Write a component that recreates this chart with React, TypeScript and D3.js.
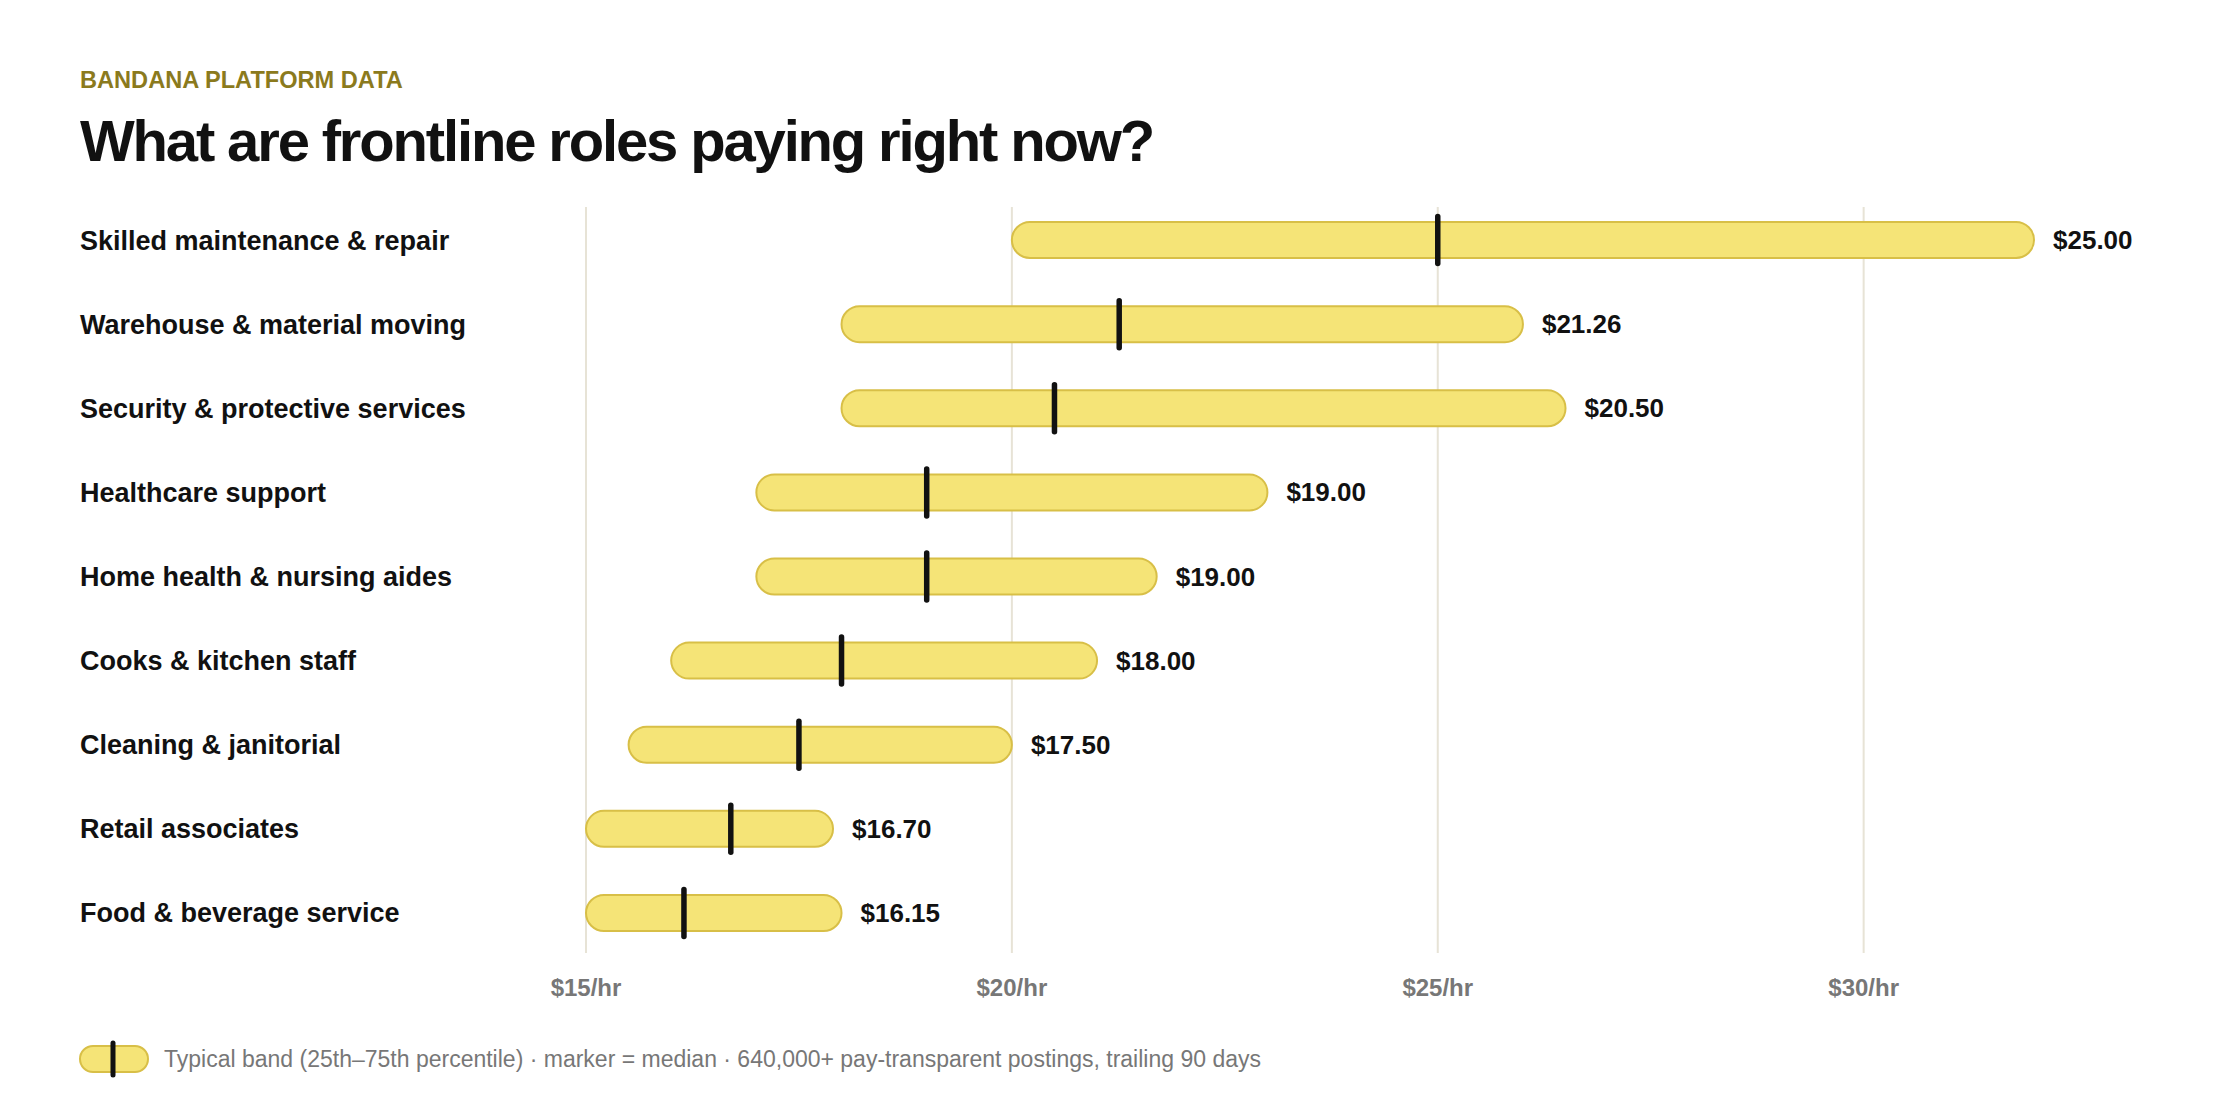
import React, {useEffect, useRef} from 'react'
import * as d3 from 'd3'

const roles = [
    'Skilled maintenance & repair',
    'Warehouse & material moving',
    'Security & protective services',
    'Healthcare support',
    'Home health & nursing aides',
    'Cooks & kitchen staff',
    'Cleaning & janitorial',
    'Retail associates',
    'Food & beverage service',
]
const p25 = [20.0, 18.0, 18.0, 17.0, 17.0, 16.0, 15.5, 15.0, 15.0]
const p75 = [32.0, 26.0, 26.5, 23.0, 21.7, 21.0, 20.0, 17.9, 18.0]
const medians = [25.0, 21.26, 20.5, 19.0, 19.0, 18.0, 17.5, 16.7, 16.15]
const ticks = [15, 20, 25, 30]

const W = 2240
const H = 1120
const FONT = '"Liberation Sans", Arial, Helvetica, sans-serif'
const BAND = '#f5e477'
const BAND_EDGE = '#d8bf47'
const INK = '#111111'
const GRID = '#e7e3d6'
const MUTED = '#777777'

export default function App() {
    const ref = useRef<SVGSVGElement>(null)

    useEffect(() => {
        const svg = d3.select(ref.current)
        svg.selectAll('*').remove()

        const x = d3.scaleLinear().domain([15, 32]).range([586, 2034])
        const y = d3.scaleBand<string>().domain(roles).range([198, 955])
        const barH = 36
        const tickH = 52

        // header
        svg.append('text')
            .attr('x', 80).attr('y', 88)
            .attr('font-family', FONT).attr('font-weight', 700)
            .attr('font-size', 23.6).attr('fill', '#8b7a1d')
            .text('BANDANA PLATFORM DATA')

        svg.append('text')
            .attr('x', 80).attr('y', 161)
            .attr('font-family', FONT).attr('font-weight', 700)
            .attr('font-size', 58).attr('letter-spacing', -2.15)
            .attr('fill', INK)
            .text('What are frontline roles paying right now?')

        // vertical gridlines + axis labels
        const grid = svg.append('g')
        grid.selectAll('line').data(ticks).join('line')
            .attr('x1', d => x(d)).attr('x2', d => x(d))
            .attr('y1', 207).attr('y2', 953)
            .attr('stroke', GRID).attr('stroke-width', 2)
        grid.selectAll('text').data(ticks).join('text')
            .attr('x', d => x(d)).attr('y', 996)
            .attr('text-anchor', 'middle')
            .attr('font-family', FONT).attr('font-weight', 700)
            .attr('font-size', 24).attr('fill', MUTED)
            .text(d => `$${d}/hr`)

        const rows = svg.append('g').selectAll('g').data(roles).join('g')
            .attr('transform', r => `translate(0,${(y(r) as number) + y.bandwidth() / 2})`)

        rows.append('text')
            .attr('x', 80).attr('y', 0).attr('dy', '0.35em')
            .attr('font-family', FONT).attr('font-weight', 700)
            .attr('font-size', 27).attr('fill', INK)
            .text(r => r)

        rows.append('rect')
            .attr('x', (_, i) => x(p25[i]))
            .attr('width', (_, i) => x(p75[i]) - x(p25[i]))
            .attr('y', -barH / 2).attr('height', barH)
            .attr('rx', barH / 2)
            .attr('fill', BAND).attr('stroke', BAND_EDGE).attr('stroke-width', 2)

        rows.append('line')
            .attr('x1', (_, i) => x(medians[i])).attr('x2', (_, i) => x(medians[i]))
            .attr('y1', -tickH / 2 + 2.5).attr('y2', tickH / 2 - 2.5)
            .attr('stroke', INK).attr('stroke-width', 5.5).attr('stroke-linecap', 'round')

        rows.append('text')
            .attr('x', (_, i) => x(p75[i]) + 19).attr('y', 0).attr('dy', '0.35em')
            .attr('font-family', FONT).attr('font-weight', 700)
            .attr('font-size', 26).attr('fill', INK)
            .text((_, i) => `$${medians[i].toFixed(2)}`)

        // legend
        const legend = svg.append('g').attr('transform', 'translate(80,1059)')
        legend.append('rect')
            .attr('x', 0).attr('y', -13).attr('width', 68).attr('height', 26)
            .attr('rx', 13)
            .attr('fill', BAND).attr('stroke', BAND_EDGE).attr('stroke-width', 2)
        legend.append('line')
            .attr('x1', 33).attr('x2', 33).attr('y1', -16).attr('y2', 16)
            .attr('stroke', INK).attr('stroke-width', 5).attr('stroke-linecap', 'round')
        legend.append('text')
            .attr('x', 84).attr('y', 0).attr('dy', '0.35em')
            .attr('font-family', FONT).attr('font-size', 23).attr('fill', MUTED)
            .text('Typical band (25th\u201375th percentile) \u00b7 marker = median \u00b7 640,000+ pay-transparent postings, trailing 90 days')
    }, [])

    return (
        <div style={{position: 'absolute', left: 0, top: 0}}>
            <svg ref={ref} width={W} height={H} style={{display: 'block', background: '#ffffff'}}></svg>
        </div>
    )
}
